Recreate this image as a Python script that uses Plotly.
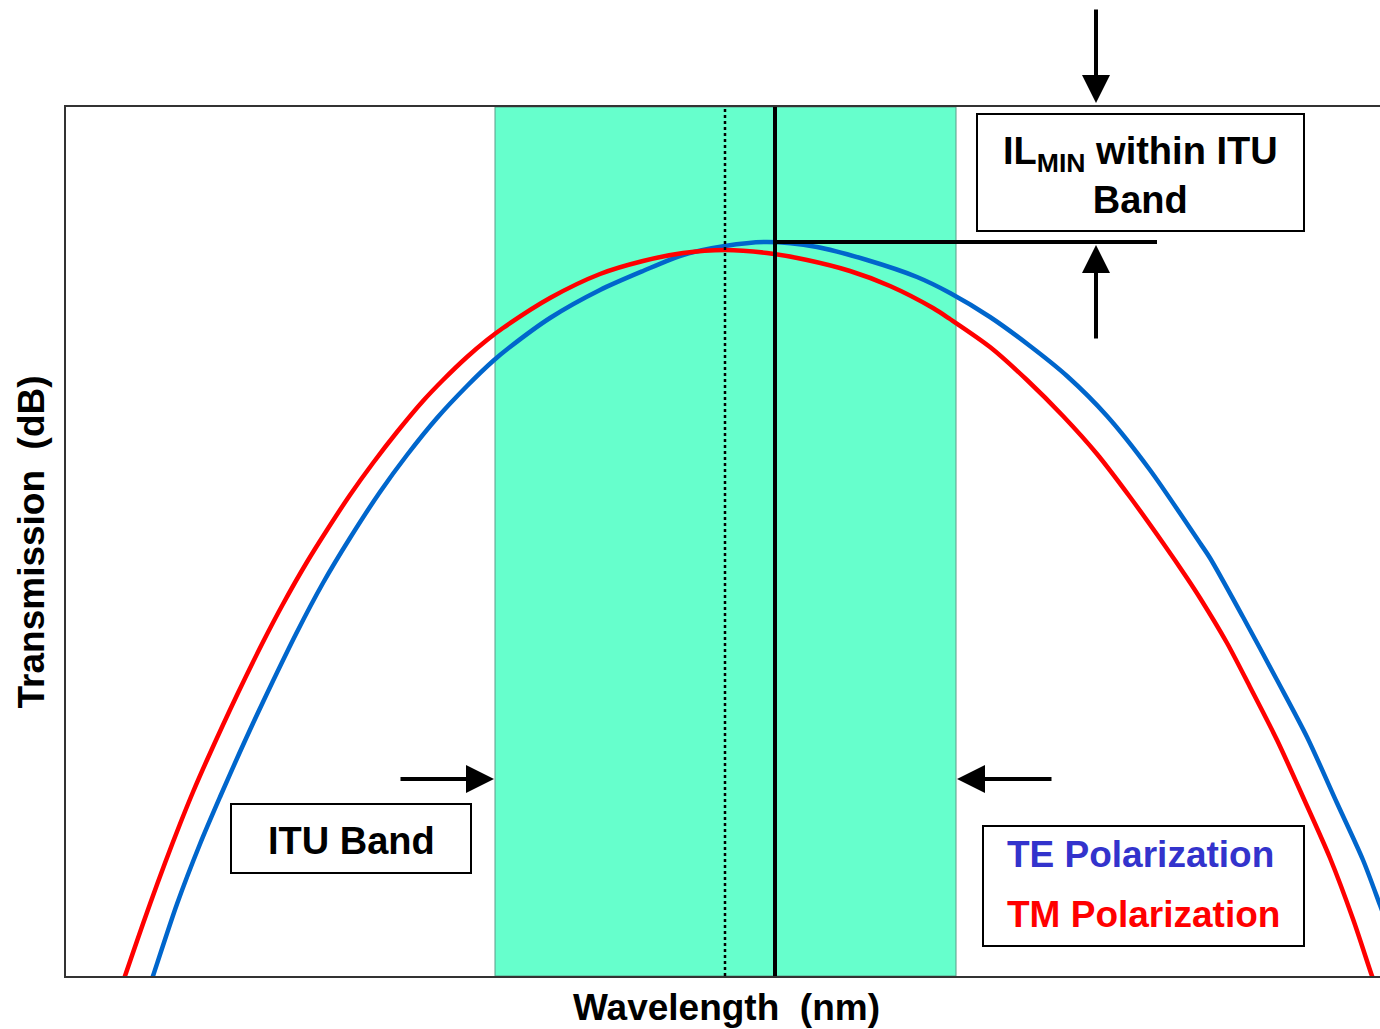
import plotly.graph_objects as go

# ---- data (relative wavelength units, relative transmission units) ----
tm_wavelength = [55, 59, 71, 84, 99, 114, 127, 141, 171, 197, 217, 241, 261, 284, 307, 331, 357, 377, 401,
                 421, 437, 484, 534, 577, 617, 659, 701, 741, 784, 824, 867, 884, 924, 961, 997, 1031,
                 1064, 1097, 1121, 1134, 1161, 1184, 1211, 1237, 1264, 1287, 1306, 1310]
tm_transmission = [-12, 0, 35, 72, 113, 152, 184, 216, 281, 334, 372, 414, 446, 481, 513, 544, 575, 596, 619,
                   636, 648, 678, 702, 715, 723, 726, 723, 716, 705, 690, 668, 657, 629, 596, 560, 522,
                   479, 433, 398, 378, 333, 289, 236, 179, 118, 57, 0, -11]

te_wavelength = [83, 87, 111, 134, 154, 173, 197, 231, 257, 284, 314, 341, 371, 401, 427, 444, 484, 534,
                 577, 617, 659, 701, 751, 801, 851, 884, 924, 964, 1001, 1041, 1084, 1134, 1144, 1177,
                 1211, 1241, 1271, 1297, 1314, 1324]
te_transmission = [-12, 0, 72, 132, 179, 222, 274, 344, 393, 438, 484, 521, 558, 590, 615, 629, 658, 686,
                   705, 721, 730, 734, 729, 716, 699, 683, 659, 630, 600, 560, 506, 433, 418, 359,
                   296, 239, 173, 116, 71, 44]

itu_band = [429, 890]          # ITU band edges
itu_center = 659               # ITU centre wavelength (dotted)
il_min_wavelength = 709        # wavelength of IL_min (solid)
il_min_level = 734             # IL_min level within band
x_range = [0, 1314]
y_range = [0, 869]

series_names = ["TE Polarization", "TM Polarization"]
te_color = "#0066CC"
tm_color = "#FF0000"
te_text_color = "#3333CC"

FONT = "Liberation Sans, Arial, Helvetica, sans-serif"

fig = go.Figure()
fig.add_trace(go.Scatter(x=te_wavelength, y=te_transmission, mode="lines", name=series_names[0],
                         line=dict(color=te_color, width=4.5, shape="spline", smoothing=0.8)))
fig.add_trace(go.Scatter(x=tm_wavelength, y=tm_transmission, mode="lines", name=series_names[1],
                         line=dict(color=tm_color, width=4.5, shape="spline", smoothing=0.8)))

shapes = [
    dict(type="rect", xref="x", yref="paper", x0=itu_band[0], x1=itu_band[1], y0=0, y1=1,
         fillcolor="#66FFCC", line=dict(color="#5a9c88", width=1), layer="below"),
    dict(type="line", xref="x", yref="paper", x0=itu_center, x1=itu_center, y0=0, y1=1,
         line=dict(color="black", width=2.5, dash="dot")),
    dict(type="line", xref="x", yref="paper", x0=il_min_wavelength, x1=il_min_wavelength, y0=0, y1=1,
         line=dict(color="black", width=4)),
    dict(type="line", xref="x", yref="y", x0=il_min_wavelength, x1=1091, y0=il_min_level, y1=il_min_level,
         line=dict(color="black", width=4)),
    # text boxes
    dict(type="rect", xref="x", yref="y", x0=911, x1=1238, y0=745, y1=862,
         fillcolor="white", line=dict(color="black", width=2)),
    dict(type="rect", xref="x", yref="y", x0=165, x1=405, y0=103, y1=172,
         fillcolor="white", line=dict(color="black", width=2)),
    dict(type="rect", xref="x", yref="y", x0=917, x1=1238, y0=30, y1=150,
         fillcolor="white", line=dict(color="black", width=2)),
]

arrow_common = dict(text="", showarrow=True, arrowhead=2, arrowwidth=4, arrowsize=1.4,
                    arrowcolor="black", standoff=0)
annotations = [
    dict(x=1030, y=(976 - 103) / 869, xref="x", yref="paper", ax=0, ay=-95, **arrow_common),
    dict(x=1030, y=731, xref="x", yref="y", ax=0, ay=95, **arrow_common),
    dict(x=itu_band[0] - 1, y=197, xref="x", yref="y", ax=-95, ay=0, **arrow_common),
    dict(x=itu_band[1] + 1, y=197, xref="x", yref="y", ax=96, ay=0, **arrow_common),
    dict(x=1074.5, y=801, xref="x", yref="y", showarrow=False,
         text="IL<sub>MIN</sub> within ITU<br>Band", align="center",
         font=dict(family=FONT, size=38, color="black", weight="bold")),
    dict(x=285, y=135, xref="x", yref="y", showarrow=False, text="ITU Band",
         font=dict(family=FONT, size=38, color="black", weight="bold")),
    dict(x=939, y=121.5, xref="x", yref="y", showarrow=False, text=series_names[0], xanchor="left",
         font=dict(family=FONT, size=37, color=te_text_color, weight="bold")),
    dict(x=939, y=62, xref="x", yref="y", showarrow=False, text=series_names[1], xanchor="left",
         font=dict(family=FONT, size=37, color=tm_color, weight="bold")),
    # axis titles
    dict(x=0.503, y=-0.036, xref="paper", yref="paper", showarrow=False,
         text="Wavelength\u00a0 (nm)", xanchor="center", yanchor="middle",
         font=dict(family=FONT, size=37, color="black", weight="bold")),
    dict(x=-0.0259, y=0.5, xref="paper", yref="paper", showarrow=False, textangle=-90,
         text="Transmission\u00a0 (dB)", xanchor="center", yanchor="middle",
         font=dict(family=FONT, size=37, color="black", weight="bold")),
]

fig.update_layout(
    width=1380, height=1029,
    margin=dict(l=66, r=0, t=107, b=53, pad=0),
    paper_bgcolor="white", plot_bgcolor="white",
    showlegend=False,
    shapes=shapes, annotations=annotations,
    xaxis=dict(range=x_range, showgrid=False, zeroline=False, showticklabels=False, ticks="",
               showline=True, mirror=True, linecolor="#333333", linewidth=1.5, fixedrange=True),
    yaxis=dict(range=y_range, showgrid=False, zeroline=False, showticklabels=False, ticks="",
               showline=True, mirror=False, linecolor="#333333", linewidth=1.5, fixedrange=True),
)

fig.write_html("out.html", config={"displayModeBar": False},
               post_script="document.body.style.margin='0';document.body.style.overflow='hidden';")
